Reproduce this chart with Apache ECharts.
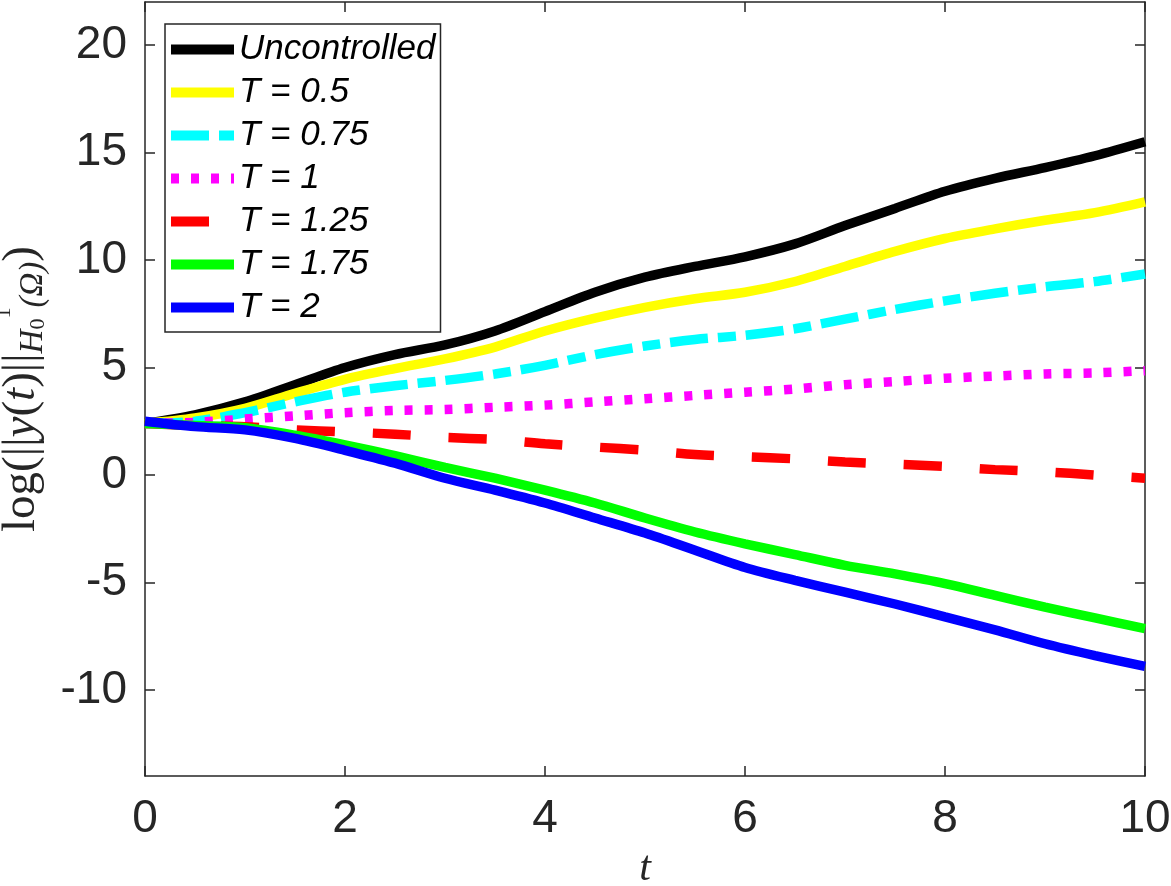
<!DOCTYPE html>
<html>
<head>
<meta charset="utf-8">
<script src="https://cdn.jsdelivr.net/npm/echarts@6/dist/echarts.min.js"></script>
<style>
  html, body { margin: 0; padding: 0; background: #fff; }
  #main { width: 1171px; height: 886px; }
</style>
</head>
<body>
<div id="main"></div>
<script>
// time samples
const tVals = [0, 0.5, 1, 1.5, 2, 2.5, 3, 3.5, 4, 4.5, 5, 5.5, 6, 6.5, 7, 7.5, 8, 8.5, 9, 9.5, 10];

// log of the H0^1 norm
const uncontrolled = [2.4, 2.8, 3.4, 4.2, 5.0, 5.6, 6.05, 6.7, 7.6, 8.5, 9.2, 9.7, 10.15, 10.75, 11.6, 12.4, 13.2, 13.8, 14.3, 14.85, 15.5];
const T050 = [2.4, 2.65, 3.1, 3.8, 4.45, 4.95, 5.4, 5.95, 6.7, 7.3, 7.8, 8.2, 8.5, 9.0, 9.7, 10.4, 11.0, 11.45, 11.85, 12.2, 12.7];
const T075 = [2.4, 2.5, 2.9, 3.4, 3.85, 4.15, 4.4, 4.7, 5.1, 5.6, 6.0, 6.3, 6.5, 6.8, 7.25, 7.7, 8.1, 8.45, 8.75, 9.0, 9.35];
const T100 = [2.4, 2.45, 2.6, 2.75, 2.9, 3.0, 3.05, 3.15, 3.25, 3.4, 3.55, 3.7, 3.85, 4.0, 4.2, 4.35, 4.5, 4.6, 4.7, 4.75, 4.85];
const T125 = [2.4, 2.3, 2.25, 2.1, 2.0, 1.9, 1.75, 1.65, 1.45, 1.3, 1.15, 0.95, 0.85, 0.75, 0.6, 0.5, 0.4, 0.25, 0.15, 0.0, -0.15];
const T175 = [2.4, 2.3, 2.2, 1.85, 1.4, 0.9, 0.35, -0.15, -0.7, -1.3, -2.0, -2.65, -3.2, -3.7, -4.2, -4.6, -5.05, -5.6, -6.15, -6.65, -7.15];
const T200 = [2.5, 2.25, 2.1, 1.7, 1.15, 0.55, -0.15, -0.7, -1.3, -2.0, -2.7, -3.5, -4.3, -4.9, -5.45, -6.0, -6.6, -7.2, -7.85, -8.4, -8.9];

const seriesNames = ['Uncontrolled', 'T = 0.5', 'T = 0.75', 'T = 1', 'T = 1.25', 'T = 1.75', 'T = 2'];
const seriesValues = [uncontrolled, T050, T075, T100, T125, T175, T200];
const seriesColors = ['#000000', '#ffff00', '#00ffff', '#ff00ff', '#ff0000', '#00ff00', '#0000ff'];
const seriesDash = ['solid', 'solid', [38, 10, 18, 10], [8, 12], [38, 38], 'solid', 'solid'];

const yTicks = [-10, -5, 0, 5, 10, 15, 20];

const axisColor = '#262626';

const myChart = echarts.init(document.getElementById('main'));

const series = seriesNames.map((name, i) => ({
  name: name,
  type: 'line',
  xAxisIndex: 0,
  yAxisIndex: 0,
  symbol: 'none',
  smooth: 0.3,
  lineStyle: { color: seriesColors[i], width: 9.5, type: seriesDash[i], cap: 'butt' },
  itemStyle: { color: seriesColors[i] },
  data: tVals.map((t, k) => [t, seriesValues[i][k]])
}));

const serif = 'Liberation Serif';

myChart.setOption({
  animation: false,
  grid: { left: 145, right: 26, top: 2, bottom: 110, outerBoundsMode: 'none', containLabel: false },
  legend: {
    left: 165,
    top: 24,
    orient: 'vertical',
    itemWidth: 63,
    itemHeight: 10,
    itemGap: 8,
    padding: [8, 5, 7, 1],
    borderColor: axisColor,
    borderWidth: 1.5,
    backgroundColor: '#fff',
    lineStyle: { width: 10 },
    itemStyle: { opacity: 0 },
    textStyle: {
      fontFamily: 'Liberation Sans',
      fontStyle: 'italic',
      fontSize: 35,
      lineHeight: 35,
      color: '#000'
    },
    data: seriesNames
  },
  xAxis: [
    {
      type: 'value', min: 0, max: 10, interval: 2,
      name: 't', nameLocation: 'middle', nameGap: 72,
      nameTextStyle: { fontFamily: serif, fontStyle: 'italic', fontSize: 42, color: axisColor },
      axisLine: { onZero: false, lineStyle: { color: axisColor, width: 1.5 } },
      axisTick: { inside: true, length: 10, lineStyle: { color: axisColor, width: 1.5 } },
      axisLabel: { fontFamily: 'Liberation Sans', fontSize: 46, color: axisColor, margin: 20 },
      splitLine: { show: false }
    },
    {
      type: 'value', min: 0, max: 10, interval: 2, position: 'top',
      axisLine: { onZero: false, lineStyle: { color: axisColor, width: 1.5 } },
      axisTick: { inside: true, length: 10, lineStyle: { color: axisColor, width: 1.5 } },
      axisLabel: { show: false },
      splitLine: { show: false }
    }
  ],
  yAxis: [
    {
      type: 'value', min: -14, max: 22,
      name: '{n|log(||}{i|y}{n|(}{i|t}{n|)||}{s|H}{s2|0}{p|1}{s|(Ω)}{n|)}',
      nameLocation: 'middle', nameGap: 88, nameRotate: 90,
      nameTextStyle: {
        color: axisColor,
        rich: {
          n: { fontFamily: serif, fontSize: 47, color: axisColor, lineHeight: 56 },
          i: { fontFamily: serif, fontStyle: 'italic', fontSize: 47, color: axisColor, lineHeight: 56 },
          s: { fontFamily: serif, fontStyle: 'italic', fontSize: 33, color: axisColor, verticalAlign: 'bottom', lineHeight: 40 },
          s2: { fontFamily: serif, fontSize: 22, color: axisColor, verticalAlign: 'bottom', lineHeight: 34 },
          p: { fontFamily: serif, fontSize: 22, color: axisColor, verticalAlign: 'top', lineHeight: 56 }
        }
      },
      axisLine: { onZero: false, lineStyle: { color: axisColor, width: 1.5 } },
      axisTick: { inside: true, length: 10, customValues: yTicks, lineStyle: { color: axisColor, width: 1.5 } },
      axisLabel: { fontFamily: 'Liberation Sans', fontSize: 46, color: axisColor, margin: 18, customValues: yTicks },
      splitLine: { show: false }
    },
    {
      type: 'value', min: -14, max: 22, position: 'right',
      axisLine: { onZero: false, lineStyle: { color: axisColor, width: 1.5 } },
      axisTick: { inside: true, length: 10, customValues: yTicks, lineStyle: { color: axisColor, width: 1.5 } },
      axisLabel: { show: false },
      splitLine: { show: false }
    }
  ],
  series: series
});
</script>
</body>
</html>
